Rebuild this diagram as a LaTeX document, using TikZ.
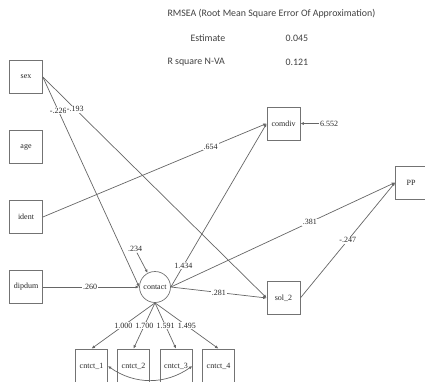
\documentclass[tikz,border=0pt]{standalone}
\usepackage{fontspec}
\setmainfont{Liberation Serif}
\newfontfamily\hdrfont{Carlito}
\usetikzlibrary{arrows.meta}
\begin{document}
\begin{tikzpicture}[x=1pt,y=-1pt,
  every node/.style={font=\fontsize{8}{9}\selectfont, text=black!85},
  varbox/.style={draw=black!55, line width=0.7pt, minimum width=33pt, minimum height=33pt, inner sep=0pt},
  latent/.style={draw=black!55, line width=0.7pt, circle, minimum size=31pt, inner sep=0pt},
  path/.style={draw=black!60, line width=0.7pt, -{Latex[length=3.5pt,width=3pt]}},
  coef/.style={fill=white, inner sep=0.8pt},
  hdr/.style={font=\hdrfont\fontsize{9.9}{11}\selectfont, anchor=west, text=black!75}]
\useasboundingbox (0,0) rectangle (425,381);
% header
\node[hdr] (h1) at (164,14) {RMSEA (Root Mean Square Error Of Approximation)};
\node[hdr] (h2) at (187,38) {Estimate};
\node[hdr] (h3) at (282,38) {0.045};
\node[hdr] (h4) at (164,62) {R square N-VA};
\node[hdr] (h5) at (282,62) {0.121};
% observed variables
\node[varbox] (sex) at (26,77) {sex};
\node[varbox] (age) at (26,147) {age};
\node[varbox] (ident) at (26,217) {ident};
\node[varbox] (dipdum) at (26,287) {dipdum};
\node[varbox] (comdiv) at (283.5,123.5) {comdiv};
\node[varbox] (sol) at (283.5,298) {sol\_2};
\node[varbox, minimum width=31pt] (pp) at (411,182.5) {PP};
\node[latent] (contact) at (155,287) {contact};
\node[varbox, minimum width=32pt, minimum height=34pt] (c1) at (91.5,366) {cntct\_1};
\node[varbox, minimum width=32pt, minimum height=34pt] (c2) at (133.5,366) {cntct\_2};
\node[varbox, minimum width=32pt, minimum height=34pt] (c3) at (176,366) {cntct\_3};
\node[varbox, minimum width=32pt, minimum height=34pt] (c4) at (218.5,366) {cntct\_4};
% residual labels
\node[coef] (r1) at (135,249) {.234};
\node[coef] (r2) at (329,123.5) {6.552};
% paths
\draw[path] (sex.east) -- node[coef, pos=0.16] {-.226} (contact.west);
\draw[path] (sex.east) -- node[coef, pos=0.145] {-.193} (sol.west);
\draw[path] (ident.east) -- node[coef, pos=0.75] {.654} (comdiv.west);
\draw[path] (dipdum.east) -- node[coef, pos=0.49] {.260} (contact.west);
\draw[path] (contact.east) -- node[coef, pos=0.13] {1.434} (comdiv.west);
\draw[path] (contact.east) -- node[coef, pos=0.62] {.381} (pp.west);
\draw[path] (contact.east) -- node[coef, pos=0.5] {.281} (sol.west);
\draw[path] (sol.east) -- node[coef, pos=0.5] {-.247} (pp.west);
\draw[path] (r1) -- (contact);
\draw[path] (r2) -- (comdiv);
% loadings
\draw[path] (contact.south) -- node[coef, pos=0.5] {1.000} (c1.north);
\draw[path] (contact.south) -- node[coef, pos=0.5] {1.700} (c2.north);
\draw[path] (contact.south) -- node[coef, pos=0.5] {1.591} (c3.north);
\draw[path] (contact.south) -- node[coef, pos=0.5] {1.495} (c4.north);
% covariance
\draw[draw=black!60, line width=0.7pt, {Latex[length=3.5pt,width=3pt]}-{Latex[length=3.5pt,width=3pt]}] (c1.east) to[out=-35, in=-145] (c3.east);
\end{tikzpicture}
\end{document}
